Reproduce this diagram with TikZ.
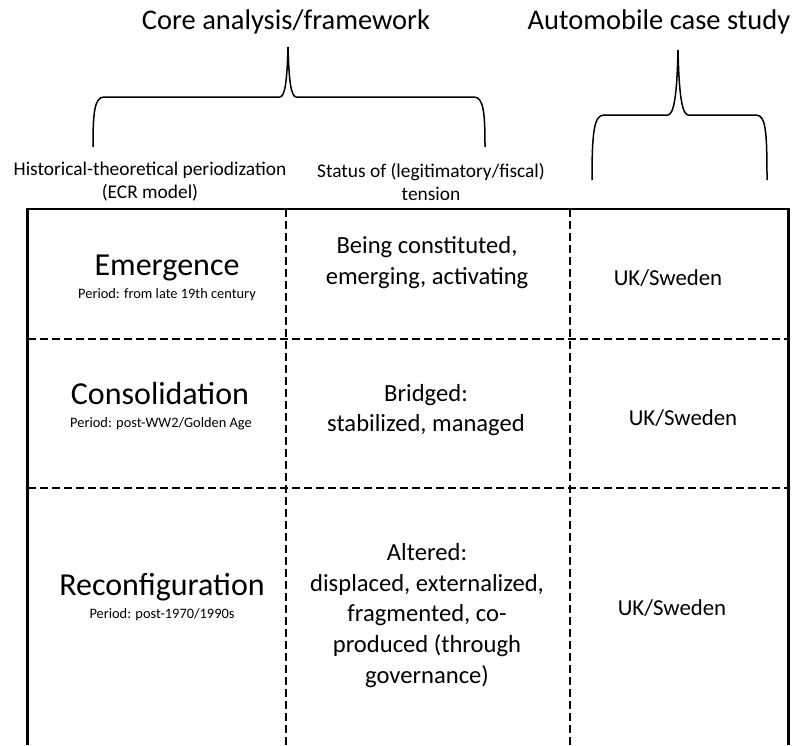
\documentclass[tikz,border=0pt]{standalone}
\usepackage{fontspec}
\setmainfont{Carlito}
\begin{document}
\begin{tikzpicture}[x=1pt,y=-1pt,
  border/.style={line width=2.4pt},
  divider/.style={line width=1.4pt, dash pattern=on 8pt off 4pt},
  bracepath/.style={line width=1.5pt},
  head/.style={font=\fontsize{28.5}{34}\selectfont, inner sep=0pt},
  colhead/.style={font=\fontsize{19.4}{23}\selectfont, align=center, inner sep=0pt},
  celltitle/.style={font=\fontsize{32}{36}\selectfont, anchor=base, inner sep=0pt},
  period/.style={font=\fontsize{14.4}{17}\selectfont, anchor=base, inner sep=0pt},
  cell/.style={font=\fontsize{24.6}{30.8}\selectfont, align=center, inner sep=0pt},
  casecell/.style={font=\fontsize{22.8}{28}\selectfont, anchor=base, inner sep=0pt}]
\useasboundingbox (0,0) rectangle (792,745);

% table frame
\coordinate (bl) at (27.5,745);
\coordinate (tl) at (27.5,209);
\coordinate (tr) at (788.5,209);
\coordinate (br) at (788.5,745);
\coordinate (r1l) at (27.5,339);
\coordinate (r1r) at (788.5,339);
\coordinate (r2l) at (27.5,488);
\coordinate (r2r) at (788.5,488);
\coordinate (c1t) at (286,209);
\coordinate (c1b) at (286,745);
\coordinate (c2t) at (570,209);
\coordinate (c2b) at (570,745);

\draw[divider] (r1l) -- (r1r);
\draw[divider] (r2l) -- (r2r);
\draw[divider] (c1t) -- (c1b);
\draw[divider] (c2t) -- (c2b);
\draw[border] (bl) -- (tl) -- (tr) -- (br);

% braces
\draw[bracepath] (93,147) .. controls (93,115) and (94,97) .. (104,97)
  -- (280,97) .. controls (285,96) and (287,82) .. (288,47)
  .. controls (289,82) and (291,96) .. (296,97)
  -- (474,97) .. controls (484,97) and (485,115) .. (485,147);
\draw[bracepath] (592,180) .. controls (592,132) and (594,115) .. (604,115)
  -- (668,115) .. controls (674,114) and (677,95) .. (678,50)
  .. controls (679,95) and (682,114) .. (688,115)
  -- (756,115) .. controls (766,115) and (767,132) .. (767,180);

% headings
\node[head] (core) at (286,22) {Core analysis/framework};
\node[head] (auto) at (659,22) {Automobile case study};
\node[colhead] (hist) at (150,181.5) {Historical-theoretical periodization\\(ECR model)};
\node[colhead] (stat) at (431,181.5) {Status of (legitimatory/fiscal)\\tension};

% row 1
\node[celltitle] (emt) at (167,275) {Emergence};
\node[period] (emp) at (167,298) {Period: from late 19th century};
\node[cell] (emm) at (427,262.5) {Being constituted,\\emerging, activating};
\node[casecell] (emc) at (668,285) {UK/Sweden};

% row 2
\node[celltitle] (cot) at (160,404) {Consolidation};
\node[period] (cop) at (161,427) {Period: post-WW2/Golden Age};
\node[cell] (com) at (426,410) {Bridged:\\stabilized, managed};
\node[casecell] (coc) at (683,425) {UK/Sweden};

% row 3
\node[celltitle] (ret) at (162,595) {Reconfiguration};
\node[period] (rep) at (162,618) {Period: post-1970/1990s};
\node[cell] (rem) at (427,615.5) {Altered:\\displaced, externalized,\\fragmented, co-\\produced (through\\governance)};
\node[casecell] (rec) at (672,615) {UK/Sweden};
\end{tikzpicture}
\end{document}
